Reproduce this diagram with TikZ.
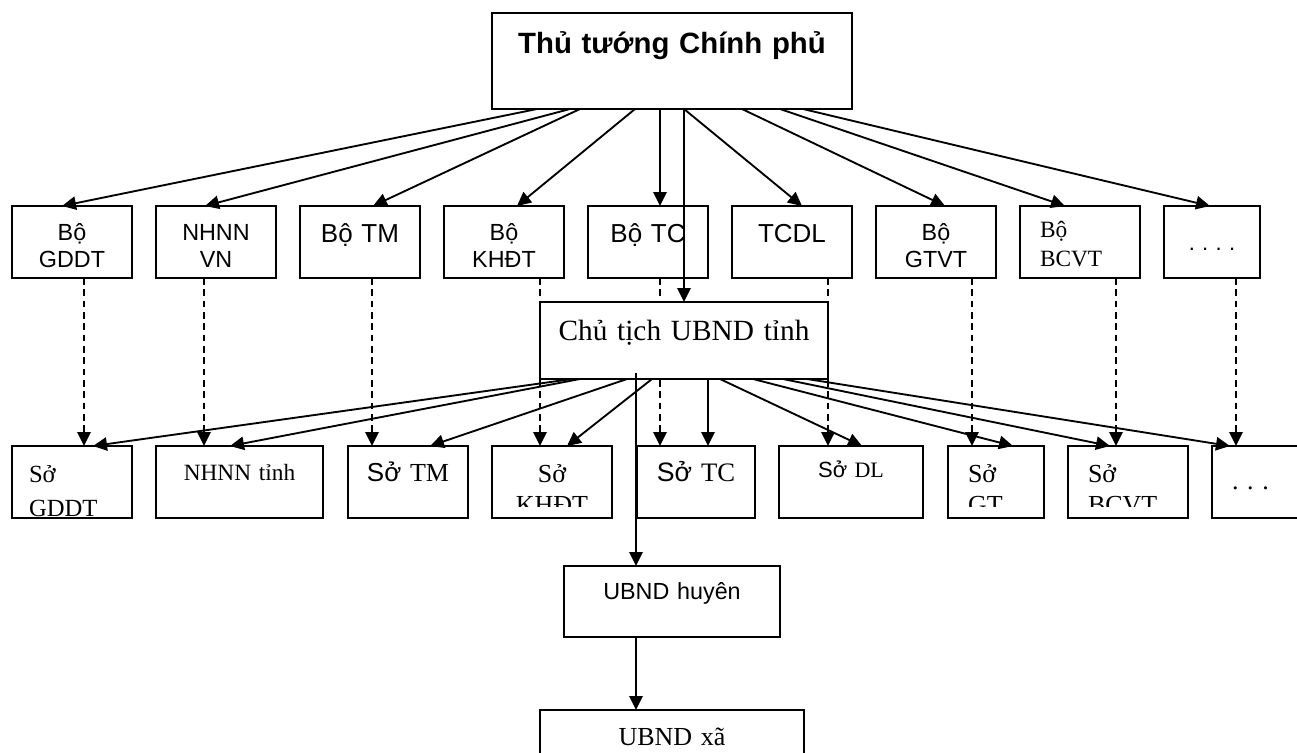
\documentclass[tikz,border=0pt]{standalone}
\usepackage{fontspec}
\setmainfont{Liberation Serif}
\setsansfont{Liberation Sans}
\usepackage{tikz}
\usetikzlibrary{calc}
\usetikzlibrary{arrows.meta}
\newcommand{\setfs}[2]{\fontsize{#1}{#2}\selectfont}
\frenchspacing

\begin{document}
\begin{tikzpicture}[x=0.75pt, y=-0.75pt,
    bx/.style={draw, fill=white, line width=1.4pt, outer sep=0pt, inner ysep=0pt, inner xsep=6pt, align=center},
    bo/.style={bx, text width=78pt},
    arr/.style={line width=1.4pt, -{Triangle[length=10.5pt,width=10pt]}},
    dsh/.style={arr, dash pattern=on 5pt off 3.5pt}]
    \clip (0,0) rectangle (1297,753);

    % 各部委
    \node[bo, text height=25.5pt, text depth=28.5pt, font=\sffamily\setfs{17.5}{20.25}] (bgddt) at (72,242) {Bộ\\GDDT};
    \node[bo, text height=25.5pt, text depth=28.5pt, font=\sffamily\setfs{17.5}{20.25}] (bnhnn) at (216,242) {NHNN\\VN};
    \node[bo, text height=27pt, text depth=27pt, font=\sffamily\setfs{19.5}{23}] (btm) at (360,242) {Bộ TM};
    \node[bo, text height=25.5pt, text depth=28.5pt, font=\sffamily\setfs{17.5}{20.25}] (bkhdt) at (504,242) {Bộ\\KHĐT};
    \node[bo, text height=27pt, text depth=27pt, font=\sffamily\setfs{19.5}{23}] (btc) at (648,242) {Bộ TC};
    \node[bo, text height=27pt, text depth=27pt, font=\sffamily\setfs{19.5}{23}] (btcdl) at (792,242) {TCDL};
    \node[bo, text height=25.5pt, text depth=28.5pt, font=\sffamily\setfs{17.5}{20.25}] (bgtvt) at (936,242) {Bộ\\GTVT};
    \node[bo, align=left, inner xsep=15pt, text width=60pt, text height=23.25pt, text depth=30.75pt, font=\setfs{17.5}{21.75}] (bbcvt) at (1080,242) {Bộ\\BCVT};
    \node[bx, text width=60pt, text height=33pt, text depth=21pt, font=\sffamily\setfs{16.5}{20}] (bkhac) at (1212,242) {. . . .};

    % 各厅
    \node[bx, align=left, inner xsep=12.75pt, text width=64.5pt, text height=27pt, text depth=27pt, font=\setfs{18.5}{25.5}] (sgddt) at (72,482) {Sở\\GDDT};
    \node[bx, text width=113.25pt, text height=25.5pt, text depth=28.5pt, font=\setfs{17.5}{21}] (snhnn) at (239.5,482) {NHNN tỉnh};
    \node[bo, text height=26.25pt, text depth=27.75pt, font=\setfs{19.5}{23}] (stm) at (408,482) {{\sffamily Sở} TM};
    \begin{scope}
        \clip (480,430) rectangle (620,506);
        \node[bo, draw=none, text height=27pt, text depth=27pt, font=\setfs{19.5}{23.25}] (skhdt) at (552,482) {Sở\\KHĐT};
    \end{scope}
    \draw[line width=1.4pt] (skhdt.south west) rectangle (skhdt.north east);
    \node[bx, text width=76.5pt, text height=26.25pt, text depth=27.75pt, font=\setfs{20}{24}] (stc) at (696,482) {{\sffamily Sở} TC};
    \node[bx, text width=96pt, text height=23.25pt, text depth=30.75pt, font=\setfs{16.5}{20}] (sdl) at (851,482) {{\sffamily Sở} DL};
    \begin{scope}
        \clip (940,430) rectangle (1050,506);
        \node[bx, draw=none, align=left, inner xsep=15pt, text width=42pt, text height=27pt, text depth=27pt, font=\setfs{19.5}{23.25}] (sgt) at (996,482) {Sở\\GT};
    \end{scope}
    \draw[line width=1.4pt] (sgt.south west) rectangle (sgt.north east);
    \begin{scope}
        \clip (1060,430) rectangle (1195,506);
        \node[bx, draw=none, align=left, inner xsep=15pt, text width=60pt, text height=27pt, text depth=27pt, font=\setfs{19.5}{23.25}] (sbcvt) at (1128,482) {Sở\\BCVT};
    \end{scope}
    \draw[line width=1.4pt] (sbcvt.south west) rectangle (sbcvt.north east);
    \node[bx, align=left, inner xsep=15pt, text width=40.5pt, text height=32.25pt, text depth=21.75pt, font=\setfs{19.5}{23}] (skhac) at (1259,482) {. . .};

    % 虚线
    \foreach \b/\s/\o in {bgddt/sgddt/12, bnhnn/snhnn/-12, btm/stm/12, bkhdt/skhdt/36, btc/stc/12, btcdl/sdl/36, bgtvt/sgt/36, bbcvt/sbcvt/36, bkhac/skhac/24}
        \draw[dsh] ($(\b.south)+(\o,0)$) coordinate (d) -- (d |- \s.north);

    \node[bx, text width=258pt, text height=30pt, text depth=42pt, font=\sffamily\bfseries\setfs{22}{26}] (ttcp) at (672,61) {Thủ tướng Chính phủ};
    \node[bx, text width=204pt, text height=28.5pt, text depth=29.25pt, font=\setfs{22}{26}] (ct) at (684,340.5) {Chủ tịch UBND tỉnh};
    \node[bx, text width=150pt, text height=24.75pt, text depth=28.5pt, font=\sffamily\setfs{17.5}{21}] (uh) at (672,601.5) {UBND huyên};
    \node[bx, text width=186pt, text height=26.25pt, text depth=33.75pt, font=\setfs{19.5}{23}] (ux) at (672,750) {UBND xã};

    % 实线箭头
    \foreach \o/\b/\t in {45/bgddt/-10, 78/bnhnn/-11, 88/btm/13, 143/bkhdt/13, 168/btc/12, 192/btcdl/10, 250/bgtvt/9, 288/bbcvt/-15, 311/bkhac/-2}
        \draw[arr] ($(ttcp.south west)+(\o,0)$) -- ($(\b.north)+(\t,0)$);
    \draw[arr] (ct.north |- ttcp.south) -- (ct.north);
    \foreach \o/\s/\t in {32/sgddt/21, 40/snhnn/-9.5, 87/stm/22, 112/skhdt/15, 168/stc/12, 180/sdl/11, 213/sgt/17, 243/sbcvt/-18, 267/skhac/-29}
        \draw[arr] ($(ct.south west)+(\o,0)$) -- ($(\s.north)+(\t,0)$);
    \draw[arr] ($(ct.south west)+(96,-6)$) coordinate (h) -- (h |- uh.north);
    \draw[arr] (h |- uh.south) -- (h |- ux.north);
\end{tikzpicture}
\end{document}
